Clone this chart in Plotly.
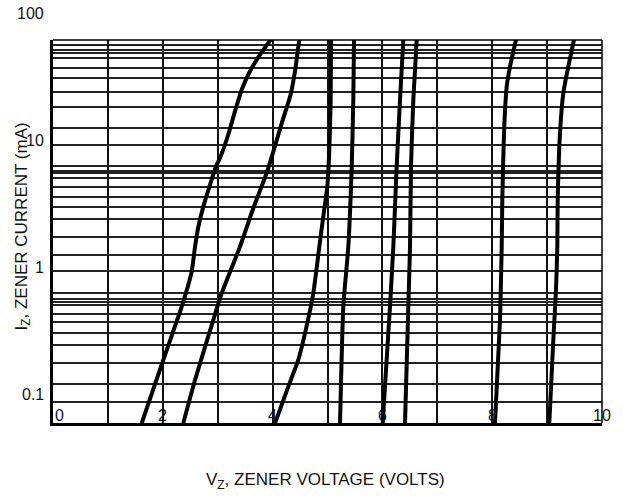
import math
import plotly.graph_objects as go

# ---- data (V_Z in volts, I_Z in mA) ----
a_v = [1.616, 2.009, 2.344, 2.526, 2.587, 2.647, 2.738, 2.970, 3.042, 3.193, 3.315, 3.437, 3.588, 3.770, 3.965]
a_i = [0.059, 0.186, 0.488, 0.922, 1.45, 2.08, 3.0, 6.24, 7.25, 11.1, 16.9, 25.0, 35.0, 47.3, 62]

b_v = [2.373, 2.587, 2.920, 3.073, 3.406, 3.648, 3.891, 4.013, 4.166, 4.326, 4.408, 4.486]
b_i = [0.059, 0.129, 0.384, 0.623, 1.45, 2.91, 5.50, 8.13, 13.6, 22.7, 35.0, 62]

c_v = [4.044, 4.286, 4.468, 4.590, 4.741, 4.851, 4.923, 4.996, 5.033, 5.058, 5.064]
c_i = [0.059, 0.1144, 0.186, 0.301, 0.623, 1.45, 2.50, 4.31, 8.39, 20.8, 62]

d_v = [5.228, 5.288, 5.379, 5.441, 5.470, 5.483]
d_i = [0.059, 0.488, 1.45, 6.19, 20.8, 62]

e_v = [6.005, 6.138, 6.199, 6.260, 6.321, 6.381]
e_i = [0.059, 0.488, 1.45, 6.19, 20.8, 62]

f_v = [6.412, 6.472, 6.503, 6.521, 6.563, 6.625]
f_i = [0.059, 0.488, 1.45, 6.19, 20.8, 62]

g_v = [8.051, 8.142, 8.173, 8.184, 8.215, 8.264, 8.324, 8.434]
g_i = [0.059, 0.384, 1.45, 3.38, 11.4, 26.4, 38.0, 62]

h_v = [9.040, 9.113, 9.162, 9.186, 9.193, 9.235, 9.295, 9.386, 9.490]
h_i = [0.059, 0.267, 0.661, 1.45, 3.38, 11.4, 23.5, 38.0, 62]

curves = [(a_v, a_i), (b_v, b_i), (c_v, c_i), (d_v, d_i),
          (e_v, e_i), (f_v, f_i), (g_v, g_i), (h_v, h_i)]

# horizontal grid lines as they appear in the (warped) reference grid, mA
y_grid = [56.4, 51.5, 49.0, 44.3, 36.9, 30.7, 24.2, 18.4, 12.6, 9.10,
          6.31, 5.76, 5.49, 5.02, 4.31, 3.59, 3.00, 2.38, 1.72, 1.236,
          0.938, 0.623, 0.558, 0.527, 0.499, 0.425, 0.3665, 0.3046,
          0.2424, 0.1749, 0.1201, 0.0871]

x_tick_vals = [0, 2, 4, 6, 8, 10]
x_tick_text = ["0", "2", "4", "6", "8", "10"]
y_tick_vals = [100, 10, 1, 0.1]
y_tick_text = ["100", "10", "1", "0.1"]

x_range = [0, 10]
y_range_log = [-1.228, 1.790]

x_title = "V<sub>Z</sub>, ZENER VOLTAGE (VOLTS)"
y_title = "I<sub>Z</sub>, ZENER CURRENT (mA)"

FONT = "Liberation Sans, Arial, sans-serif"

fig = go.Figure()
for v, i in curves:
    fig.add_trace(go.Scatter(x=v, y=i, mode="lines",
                             line=dict(color="#000000", width=4, shape="spline", smoothing=0.5),
                             showlegend=False, hoverinfo="skip"))


def log_to_paper(val):
    return (math.log10(val) - y_range_log[0]) / (y_range_log[1] - y_range_log[0])


annotations = []
for val, txt in zip(x_tick_vals, x_tick_text):
    annotations.append(dict(x=val, xref="x", y=0, yref="paper",
                            text=txt, showarrow=False,
                            xanchor="left" if val == 0 else "center",
                            yanchor="middle", yshift=8,
                            font=dict(family=FONT, size=16, color="#111")))
for val, txt in zip(y_tick_vals, y_tick_text):
    annotations.append(dict(x=0, xref="paper", y=log_to_paper(val), yref="paper",
                            text=txt, showarrow=False,
                            xanchor="right", yanchor="middle", xshift=-7,
                            font=dict(family=FONT, size=16, color="#111")))
annotations.append(dict(x=0.5, xref="paper", y=0, yref="paper", text=x_title,
                        showarrow=False, xanchor="center", yanchor="middle",
                        xshift=-2, yshift=-58,
                        font=dict(family=FONT, size=17, color="#111")))
annotations.append(dict(x=0, xref="paper", y=0.5, yref="paper", text=y_title,
                        showarrow=False, textangle=-90, xanchor="center",
                        yanchor="middle", xshift=-31, yshift=5,
                        font=dict(family=FONT, size=17, color="#111")))

fig.update_layout(
    width=623, height=498,
    margin=dict(l=53, r=21, t=40, b=75),
    paper_bgcolor="white", plot_bgcolor="white",
    showlegend=False,
    annotations=annotations,
    shapes=[
        dict(type="line", xref="paper", yref="paper", x0=0, x1=1, y0=1, y1=1,
             line=dict(color="#000", width=1.5)),
        dict(type="line", xref="paper", yref="paper", x0=1, x1=1, y0=0, y1=1,
             line=dict(color="#000", width=1.5)),
    ],
    xaxis=dict(range=x_range, dtick=1, tick0=0, showticklabels=False, ticks="",
               showgrid=True, gridcolor="#111", gridwidth=1.8, zeroline=False,
               showline=True, linecolor="#000", linewidth=3),
    yaxis=dict(type="log", range=y_range_log, tickmode="array", tickvals=y_grid,
               showticklabels=False, ticks="", showgrid=True, gridcolor="#222",
               gridwidth=1.8, zeroline=False,
               showline=True, linecolor="#000", linewidth=3),
)

fig.write_html("out.html", config={"displayModeBar": False},
               post_script="document.body.style.margin='0';document.body.style.overflow='hidden';")
